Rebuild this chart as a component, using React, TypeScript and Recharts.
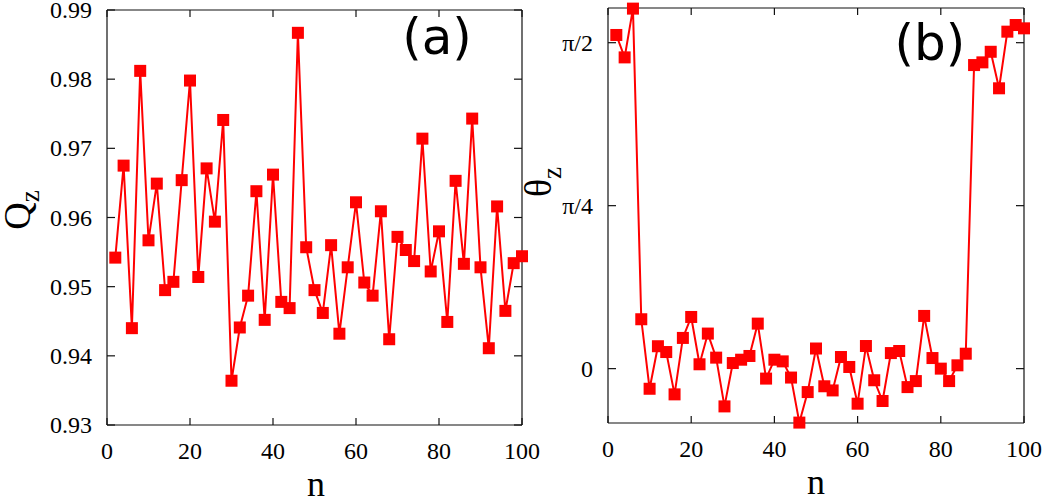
import { Line, LineChart, XAxis, YAxis } from 'recharts'

// site index (every second site of the chain)
const sites = [
	2, 4, 6, 8, 10, 12, 14, 16, 18, 20, 22, 24, 26, 28, 30, 32, 34, 36, 38, 40, 42, 44, 46, 48, 50,
	52, 54, 56, 58, 60, 62, 64, 66, 68, 70, 72, 74, 76, 78, 80, 82, 84, 86, 88, 90, 92, 94, 96, 98, 100,
]

// Q_z per site
const qz = [
	0.9542, 0.9675, 0.944, 0.9812, 0.9567, 0.9649, 0.9495, 0.9507, 0.9654, 0.9798, 0.9514, 0.9671,
	0.9594, 0.9741, 0.9364, 0.9441, 0.9487, 0.9638, 0.9452, 0.9662, 0.9478, 0.9469, 0.9867, 0.9557,
	0.9495, 0.9462, 0.956, 0.9432, 0.9528, 0.9622, 0.9506, 0.9487, 0.9609, 0.9424, 0.9572, 0.9553,
	0.9537, 0.9714, 0.9522, 0.958, 0.9449, 0.9653, 0.9533, 0.9743, 0.9528, 0.9411, 0.9616, 0.9465,
	0.9534, 0.9544,
]

// theta_z per site, radians
const thetaZ = [
	1.608, 1.5, 1.735, 0.238, -0.097, 0.108, 0.08, -0.124, 0.148, 0.249, 0.021, 0.169, 0.053, -0.182,
	0.027, 0.043, 0.061, 0.217, -0.048, 0.043, 0.035, -0.043, -0.26, -0.113, 0.097, -0.085, -0.105,
	0.056, 0.008, -0.169, 0.109, -0.056, -0.156, 0.075, 0.085, -0.089, -0.06, 0.254, 0.051, 0, -0.06,
	0.016, 0.072, 1.463, 1.476, 1.527, 1.351, 1.624, 1.656, 1.64,
]

const nTicks = [0, 20, 40, 60, 80, 100]
const qTicks = [0.93, 0.94, 0.95, 0.96, 0.97, 0.98, 0.99]
const thetaTicks = [0, Math.PI / 4, Math.PI / 2]
const thetaTickLabels = ['0', 'π/4', 'π/2']

const qData = sites.map((n, i) => ({ n, v: qz[i] }))
const thetaData = sites.map((n, i) => ({ n, v: thetaZ[i] }))

const RED = '#ff0000'
const INK = '#111'
const SERIF = 'Liberation Serif'
const SANS = 'DejaVu Sans'
const TICK_GAP_X = 17
const TICK_GAP_Y = 15

function Square(props: any) {
	const { cx, cy, index } = props
	if (cx == null || cy == null) return <g key={`sq-${index}`} />
	return <rect key={`sq-${index}`} x={cx - 6} y={cy - 6} width={12} height={12} fill={RED} />
}

// bottom tick: label plus inward marks on the bottom and top edges
function makeXTick(plotH: number) {
	return function XTick(props: any) {
		const { x, y, payload } = props
		const base = y - TICK_GAP_X
		return (
			<g>
				<line x1={x} x2={x} y1={base} y2={base - 7} stroke={INK} strokeWidth={1.2} />
				<line x1={x} x2={x} y1={base - plotH} y2={base - plotH + 7} stroke={INK} strokeWidth={1.2} />
				<text x={x} y={y} dy='0.71em' textAnchor='middle' fontFamily={SERIF} fontSize={24} fill='#000'>
					{payload.value}
				</text>
			</g>
		)
	}
}

// left tick: label plus inward marks on the left and right edges
function makeYTick(plotW: number, fmt: (v: number) => string) {
	return function YTick(props: any) {
		const { x, y, payload } = props
		const base = x + TICK_GAP_Y
		return (
			<g>
				<line x1={base} x2={base + 8} y1={y} y2={y} stroke={INK} strokeWidth={1.2} />
				<line x1={base + plotW} x2={base + plotW - 8} y1={y} y2={y} stroke={INK} strokeWidth={1.2} />
				<text x={x} y={y} dy='0.34em' textAnchor='end' fontFamily={SERIF} fontSize={24} fill='#000'>
					{fmt(payload.value)}
				</text>
			</g>
		)
	}
}

type PanelProps = {
	data: { n: number; v: number }[]
	width: number
	height: number
	margin: { top: number; right: number; bottom: number; left: number }
	yDomain: [number, number]
	yTicks: number[]
	yFormat: (v: number) => string
	yWidth: number
}

function Panel({ data, width, height, margin, yDomain, yTicks, yFormat, yWidth }: PanelProps) {
	const frame = { stroke: INK, strokeWidth: 1.2 }
	const plotW = width - margin.left - margin.right - yWidth
	const plotH = height - margin.top - margin.bottom - 40
	return (
		<LineChart width={width} height={height} data={data} margin={margin}>
			<XAxis
				xAxisId='b'
				dataKey='n'
				type='number'
				domain={[0, 100]}
				ticks={nTicks}
				axisLine={frame}
				tickLine={false}
				tickSize={0}
				tickMargin={TICK_GAP_X}
				height={40}
				tick={makeXTick(plotH)}
			/>
			<XAxis xAxisId='t' orientation='top' type='number' domain={[0, 100]} ticks={nTicks} mirror axisLine={frame} tick={false} tickLine={false} />
			<YAxis
				yAxisId='l'
				type='number'
				domain={yDomain}
				ticks={yTicks}
				axisLine={frame}
				tickLine={false}
				tickSize={0}
				tickMargin={TICK_GAP_Y}
				width={yWidth}
				tick={makeYTick(plotW, yFormat)}
			/>
			<YAxis yAxisId='r' orientation='right' type='number' domain={yDomain} ticks={yTicks} mirror axisLine={frame} tick={false} tickLine={false} />
			<Line
				xAxisId='b'
				yAxisId='l'
				dataKey='v'
				stroke={RED}
				strokeWidth={2}
				dot={Square}
				activeDot={false}
				isAnimationActive={false}
			/>
		</LineChart>
	)
}

export default function App() {
	return (
		<div style={{ position: 'absolute', left: 0, top: 0, width: 1046, height: 503, background: '#fff' }}>
			<div style={{ position: 'absolute', left: 0, top: 0 }}>
				<Panel
					data={qData}
					width={540}
					height={503}
					margin={{ top: 10, right: 18, bottom: 38, left: 27 }}
					yDomain={[0.93, 0.99]}
					yTicks={qTicks}
					yFormat={(v) => v.toFixed(2)}
					yWidth={80}
				/>
			</div>
			<div style={{ position: 'absolute', left: 540, top: 0 }}>
				<Panel
					data={thetaData}
					width={506}
					height={503}
					margin={{ top: 8, right: 22, bottom: 40, left: 8 }}
					yDomain={[-0.262, 1.738]}
					yTicks={thetaTicks}
					yFormat={(v) => thetaTickLabels[thetaTicks.indexOf(v)] ?? ''}
					yWidth={60}
				/>
			</div>
			{/* axis titles and panel tags */}
			<svg width={1046} height={503} style={{ position: 'absolute', left: 0, top: 0, pointerEvents: 'none' }}>
				<text x={316} y={496} textAnchor='middle' fontFamily={SERIF} fontSize={36}>
					n
				</text>
				<text x={816} y={494} textAnchor='middle' fontFamily={SERIF} fontSize={36}>
					n
				</text>
				<text transform='translate(30,210) rotate(-90)' textAnchor='middle' fontFamily={SERIF} fontSize={38}>
					Q
					<tspan fontSize={27} dy={9}>
						z
					</tspan>
				</text>
				<text transform='translate(551,182) rotate(-90)' textAnchor='middle' fontFamily={SERIF} fontSize={38}>
					θ
					<tspan fontSize={27} dy={10}>
						z
					</tspan>
				</text>
				<text x={437} y={54} textAnchor='middle' fontFamily={SANS} fontSize={50}>
					(a)
				</text>
				<text x={930} y={60} textAnchor='middle' fontFamily={SANS} fontSize={50}>
					(b)
				</text>
			</svg>
		</div>
	)
}
